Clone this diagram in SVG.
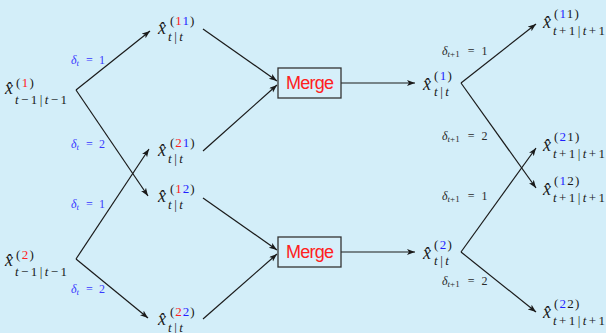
<svg xmlns="http://www.w3.org/2000/svg" width="606" height="333" viewBox="0 0 606 333">
<defs>
<marker id="ah" markerUnits="userSpaceOnUse" markerWidth="9" markerHeight="7" refX="8" refY="3" orient="auto">
<path d="M0,0 L8,3 L0,6 L2,3 z" fill="#1a1a1a"/>
</marker>
<style>
.m{font-family:"Liberation Serif",serif;font-style:italic;font-size:18px;fill:#1a1a1a}
.s{font-style:normal;font-size:13px}
.i{font-style:italic}
.r{fill:#ff2222}
.b{fill:#1f1fff}
.ln{stroke:#1a1a1a;stroke-width:1.2;fill:none}
.ar{marker-end:url(#ah)}
.box{fill:#d6effa;stroke:#333;stroke-width:1.3}
.mg{font-family:"Liberation Sans",sans-serif;font-size:18px;fill:#ff2020}
.dl{font-family:"Liberation Serif",serif;font-size:12px;fill:#3a3aff}
.dr{font-family:"Liberation Serif",serif;font-size:12px;fill:#2a2a2a}
.d{font-style:italic;font-size:12px}
.ds{font-size:9px}
</style>
</defs>
<rect width="606" height="333" fill="#d3eef9"/>

<g id="connectors">
<path class="ln ar" d="M76,90 L150,31"/>
<path class="ln ar" d="M76,90 L148,196"/>
<path class="ln ar" d="M76,259 L149,149"/>
<path class="ln ar" d="M76,259 L148,318"/>
<path class="ln ar" d="M203,29 L277,81"/>
<path class="ln ar" d="M203,151 L277,85"/>
<path class="ln ar" d="M203,198 L277,250"/>
<path class="ln ar" d="M203,319 L277,254"/>
<path class="ln ar" d="M341,83 L415,83"/>
<path class="ln ar" d="M341,252 L415,252"/>
<path class="ln ar" d="M461,83 L536,24"/>
<path class="ln ar" d="M461,83 L536,188"/>
<path class="ln ar" d="M461,252 L536,148"/>
<path class="ln ar" d="M461,252 L536,312"/>
</g>

<g id="edge-labels">
<text class="dl" x="71" y="64"><tspan class="d">δ</tspan><tspan class="ds i" dy="2">t</tspan><tspan dx="7" dy="-2">=</tspan><tspan dx="6">1</tspan></text>
<text class="dl" x="71" y="148"><tspan class="d">δ</tspan><tspan class="ds i" dy="2">t</tspan><tspan dx="7" dy="-2">=</tspan><tspan dx="6">2</tspan></text>
<text class="dl" x="71" y="208"><tspan class="d">δ</tspan><tspan class="ds i" dy="2">t</tspan><tspan dx="7" dy="-2">=</tspan><tspan dx="6">1</tspan></text>
<text class="dl" x="71" y="293"><tspan class="d">δ</tspan><tspan class="ds i" dy="2">t</tspan><tspan dx="7" dy="-2">=</tspan><tspan dx="6">2</tspan></text>
<text class="dr" x="442" y="55"><tspan class="d">δ</tspan><tspan class="ds" dy="2"><tspan class="i">t</tspan>+1</tspan><tspan dx="8" dy="-2">=</tspan><tspan dx="7">1</tspan></text>
<text class="dr" x="442" y="140"><tspan class="d">δ</tspan><tspan class="ds" dy="2"><tspan class="i">t</tspan>+1</tspan><tspan dx="8" dy="-2">=</tspan><tspan dx="7">2</tspan></text>
<text class="dr" x="442" y="200"><tspan class="d">δ</tspan><tspan class="ds" dy="2"><tspan class="i">t</tspan>+1</tspan><tspan dx="8" dy="-2">=</tspan><tspan dx="7">1</tspan></text>
<text class="dr" x="442" y="285"><tspan class="d">δ</tspan><tspan class="ds" dy="2"><tspan class="i">t</tspan>+1</tspan><tspan dx="8" dy="-2">=</tspan><tspan dx="7">2</tspan></text>
</g>

<g id="n-prev1">
<text class="m" x="5" y="94">x̂<tspan class="s" x="16" y="87" letter-spacing="1.3">(<tspan class="r">1</tspan>)</tspan><tspan class="s" x="15" y="103.5" letter-spacing="2.4"><tspan class="i">t</tspan>−1|<tspan class="i">t</tspan>−1</tspan></text>
</g>
<g id="n-prev2">
<text class="m" x="5" y="266">x̂<tspan class="s" x="16" y="259" letter-spacing="1.3">(<tspan class="r">2</tspan>)</tspan><tspan class="s" x="15" y="275.5" letter-spacing="2.4"><tspan class="i">t</tspan>−1|<tspan class="i">t</tspan>−1</tspan></text>
</g>

<g id="n-11">
<text class="m" x="158" y="34">x̂<tspan class="s" x="170" y="25" letter-spacing="1">(<tspan class="r">1</tspan><tspan class="b">1</tspan>)</tspan><tspan class="s" x="168" y="40.5" letter-spacing="2.5"><tspan class="i">t</tspan>|<tspan class="i">t</tspan></tspan></text>
</g>
<g id="n-21">
<text class="m" x="158" y="156">x̂<tspan class="s" x="170" y="147" letter-spacing="1">(<tspan class="r">2</tspan><tspan class="b">1</tspan>)</tspan><tspan class="s" x="168" y="162.5" letter-spacing="2.5"><tspan class="i">t</tspan>|<tspan class="i">t</tspan></tspan></text>
</g>
<g id="n-12">
<text class="m" x="158" y="202">x̂<tspan class="s" x="170" y="193" letter-spacing="1">(<tspan class="r">1</tspan><tspan class="b">2</tspan>)</tspan><tspan class="s" x="168" y="208.5" letter-spacing="2.5"><tspan class="i">t</tspan>|<tspan class="i">t</tspan></tspan></text>
</g>
<g id="n-22">
<text class="m" x="158" y="325">x̂<tspan class="s" x="170" y="316" letter-spacing="1">(<tspan class="r">2</tspan><tspan class="b">2</tspan>)</tspan><tspan class="s" x="168" y="331.5" letter-spacing="2.5"><tspan class="i">t</tspan>|<tspan class="i">t</tspan></tspan></text>
</g>

<g id="merge1">
<rect class="box" x="278" y="68" width="63" height="30"/>
<text class="mg" x="286" y="89" textLength="48">Merge</text>
</g>
<g id="merge2">
<rect class="box" x="278" y="237" width="63" height="30"/>
<text class="mg" x="286" y="258" textLength="48">Merge</text>
</g>

<g id="n-m1">
<text class="m" x="423" y="90">x̂<tspan class="s" x="434" y="80" letter-spacing="1.3">(<tspan class="b">1</tspan>)</tspan><tspan class="s" x="434" y="95.5" letter-spacing="2.5"><tspan class="i">t</tspan>|<tspan class="i">t</tspan></tspan></text>
</g>
<g id="n-m2">
<text class="m" x="423" y="259">x̂<tspan class="s" x="434" y="249" letter-spacing="1.3">(<tspan class="b">2</tspan>)</tspan><tspan class="s" x="434" y="264.5" letter-spacing="2.5"><tspan class="i">t</tspan>|<tspan class="i">t</tspan></tspan></text>
</g>

<g id="n-n11">
<text class="m" x="543" y="28">x̂<tspan class="s" x="554" y="18" letter-spacing="1.2">(<tspan class="b">1</tspan>1)</tspan><tspan class="s" x="553" y="34.5" letter-spacing="2.4"><tspan class="i">t</tspan>+1|<tspan class="i">t</tspan>+1</tspan></text>
</g>
<g id="n-n21">
<text class="m" x="543" y="151">x̂<tspan class="s" x="554" y="141" letter-spacing="1.2">(<tspan class="b">2</tspan>1)</tspan><tspan class="s" x="553" y="157.5" letter-spacing="2.4"><tspan class="i">t</tspan>+1|<tspan class="i">t</tspan>+1</tspan></text>
</g>
<g id="n-n12">
<text class="m" x="543" y="195">x̂<tspan class="s" x="554" y="185" letter-spacing="1.2">(<tspan class="b">1</tspan>2)</tspan><tspan class="s" x="553" y="201.5" letter-spacing="2.4"><tspan class="i">t</tspan>+1|<tspan class="i">t</tspan>+1</tspan></text>
</g>
<g id="n-n22">
<text class="m" x="543" y="318">x̂<tspan class="s" x="554" y="308" letter-spacing="1.2">(<tspan class="b">2</tspan>2)</tspan><tspan class="s" x="553" y="324.5" letter-spacing="2.4"><tspan class="i">t</tspan>+1|<tspan class="i">t</tspan>+1</tspan></text>
</g>
</svg>
